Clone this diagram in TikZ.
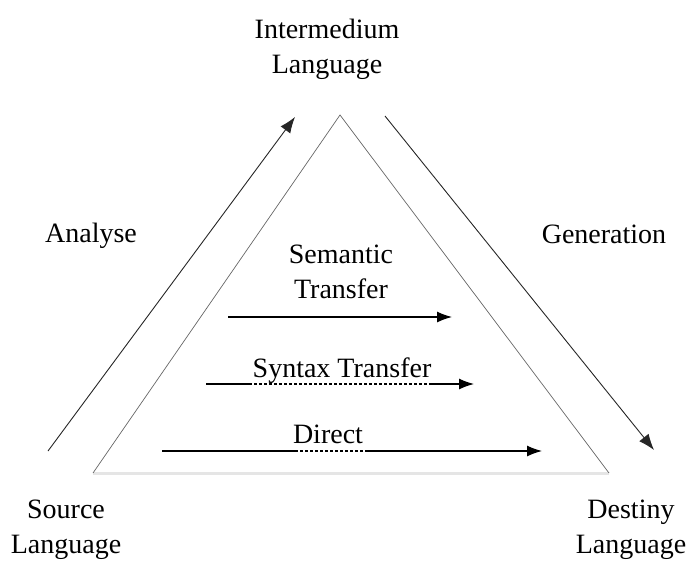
\documentclass[tikz,border=0pt]{standalone}
\usepackage{fontspec}
\setmainfont{Liberation Serif}
\usetikzlibrary{arrows.meta}
\begin{document}
\begin{tikzpicture}[x=1pt,y=-1pt,
  lbl/.style={font=\fontsize{28}{35}\selectfont, inner sep=0pt, align=center, anchor=base},
  side/.style={draw=black!60, line width=0.7pt},
  base/.style={draw=black!10, line width=3pt},
  outer/.style={draw=black!85, line width=0.9pt, -{Latex[length=16pt,width=12pt]}},
  flow/.style={draw=black, line width=1.2pt},
  flowend/.style={flow, -{Latex[length=15pt,width=11pt]}},
  flowdash/.style={draw=black, line width=1.2pt, dash pattern=on 3pt off 2pt}]
  \useasboundingbox (0,0) rectangle (691,560);

  % triangle of approaches
  \coordinate (apex) at (340,115);
  \coordinate (bl) at (93,473);
  \coordinate (br) at (609,473);
  \draw[base] (bl) -- (br);
  \draw[side] (bl) -- (apex) -- (br);

  % analysis and generation
  \coordinate (anaS) at (48,451);
  \coordinate (anaE) at (295,117);
  \coordinate (genS) at (385,116);
  \coordinate (genE) at (654,450);
  \draw[outer] (anaS) -- (anaE);
  \draw[outer] (genS) -- (genE);

  % labels (base anchor sits on the last line)
  \node[lbl] (inter) at (327,73) {Intermedium\\Language};
  \node[lbl] (analyse) at (91,242) {Analyse};
  \node[lbl] (gen) at (604,243) {Generation};
  \node[lbl] (sem) at (341,298) {Semantic\\Transfer};
  \node[lbl] (syn) at (342,377) {Syntax Transfer};
  \node[lbl] (dir) at (328,443) {Direct};
  \node[lbl] (src) at (66,553) {Source\\Language};
  \node[lbl] (dst) at (631,553) {Destiny\\Language};

  % semantic transfer
  \coordinate (semS) at (228,317);
  \coordinate (semE) at (452,317);
  \draw[flowend] (semS) -- (semE);

  % syntax transfer
  \coordinate (synS) at (206,384);
  \coordinate (synA) at (249,384);
  \coordinate (synB) at (432,384);
  \coordinate (synE) at (474,384);
  \draw[flow] (synS) -- (synA);
  \draw[flowdash] (synA) -- (synB);
  \draw[flowend] (synB) -- (synE);

  % direct translation
  \coordinate (dirS) at (162,451);
  \coordinate (dirA) at (295,451);
  \coordinate (dirB) at (365,451);
  \coordinate (dirE) at (542,451);
  \draw[flow] (dirS) -- (dirA);
  \draw[flowdash] (dirA) -- (dirB);
  \draw[flowend] (dirB) -- (dirE);
\end{tikzpicture}
\end{document}
